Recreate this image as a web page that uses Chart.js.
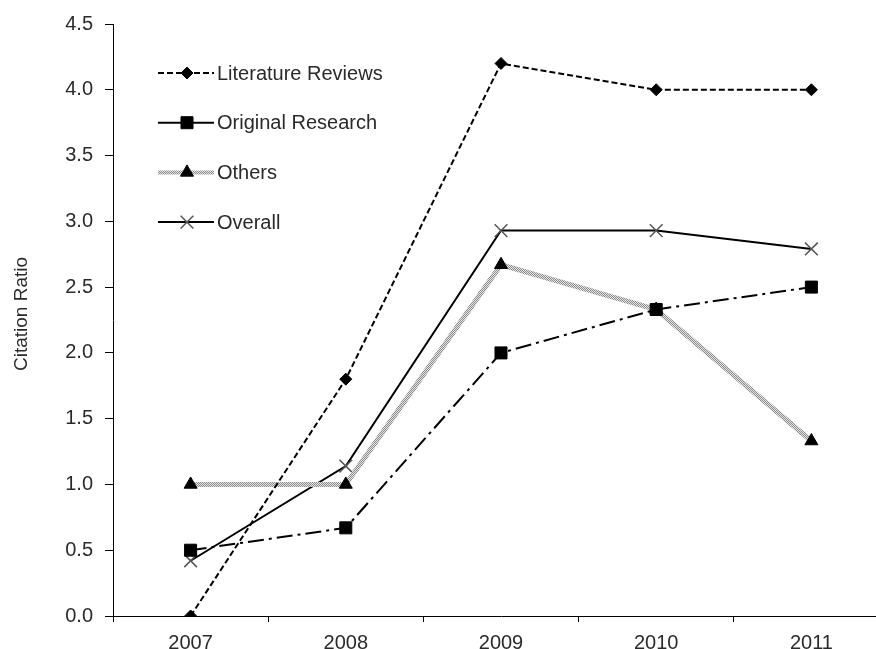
<!DOCTYPE html>
<html><head><meta charset="utf-8">
<script src="https://cdn.jsdelivr.net/npm/chart.js@4/dist/chart.umd.min.js"></script>
<style>
html,body{margin:0;padding:0;background:#fff;overflow:hidden;width:876px;height:649px}
#wrap{width:900px;height:649px;position:relative}
canvas{display:block}
</style></head><body>
<div id="wrap"><canvas id="c" width="900" height="649"></canvas></div>
<script>
const categories = ['2007', '2008', '2009', '2010', '2011'];
const literatureReviews = [0.0, 1.8, 4.2, 4.0, 4.0];
const originalResearch = [0.5, 0.67, 2.0, 2.33, 2.5];
const others = [1.0, 1.0, 2.67, 2.33, 1.33];
const overall = [0.42, 1.14, 2.93, 2.93, 2.79];
const yTickLabels = ['0.0', '0.5', '1.0', '1.5', '2.0', '2.5', '3.0', '3.5', '4.0', '4.5'];
const seriesNames = ['Literature Reviews', 'Original Research', 'Others', 'Overall'];
const yTitle = 'Citation Ratio';

const FONT = '"Liberation Sans", Arial, sans-serif';
const TEXT = '#2a2a2a';

// textured gray pattern for "Others"
const pc = document.createElement('canvas');
pc.width = 2; pc.height = 2;
const pctx = pc.getContext('2d');
pctx.fillStyle = '#e6e6e6'; pctx.fillRect(0, 0, 2, 2);
pctx.fillStyle = '#8a8a8a'; pctx.fillRect(0, 0, 1, 1); pctx.fillRect(1, 1, 1, 1);
const grayPattern = document.getElementById('c').getContext('2d').createPattern(pc, 'repeat');

const legendPlugin = {
  id: 'customLegend',
  afterDraw(chart) {
    const ctx = chart.ctx;
    const x0 = 158, x1 = 214, xm = 187, y0 = 73, dy = 49.7;
    chart.data.datasets.forEach((ds, i) => {
      const y = y0 + i * dy;
      ctx.save();
      ctx.strokeStyle = ds.borderColor;
      ctx.lineWidth = ds.legendLineWidth || ds.borderWidth;
      ctx.setLineDash(ds.legendDash || []);
      ctx.beginPath();
      ctx.moveTo(x0, y); ctx.lineTo(x1, y);
      ctx.stroke();
      ctx.setLineDash([]);
      ctx.fillStyle = ds.pointBackgroundColor;
      ctx.strokeStyle = ds.pointBorderColor;
      ctx.lineWidth = ds.pointBorderWidth;
      Chart.helpers.drawPoint(ctx, {pointStyle: ds.pointStyle, radius: ds.pointRadius, borderWidth: ds.pointBorderWidth, rotation: 0}, xm, y);
      ctx.fillStyle = TEXT;
      ctx.font = '20px ' + FONT;
      ctx.textBaseline = 'middle';
      ctx.textAlign = 'left';
      ctx.fillText(ds.label, 217, y + 1);
      ctx.restore();
    });
    // y-axis title
    ctx.save();
    ctx.translate(22, 314);
    ctx.rotate(-Math.PI / 2);
    ctx.fillStyle = TEXT;
    ctx.font = '19px ' + FONT;
    ctx.textAlign = 'center';
    ctx.textBaseline = 'middle';
    ctx.fillText(yTitle, 0, 0);
    ctx.restore();
  }
};

new Chart(document.getElementById('c'), {
  type: 'line',
  data: {
    labels: categories,
    datasets: [
      {label: seriesNames[0], data: literatureReviews, borderColor: '#000', borderWidth: 2, borderDash: [6, 3], legendDash: [6, 3],
       pointStyle: 'rectRot', pointRadius: 6, pointBackgroundColor: '#000', pointBorderColor: '#000', pointBorderWidth: 1},
      {label: seriesNames[1], data: originalResearch, borderColor: '#000', borderWidth: 2, borderDash: [16, 5, 3, 5], legendDash: [],
       pointStyle: 'rect', pointRadius: 8.5, pointBackgroundColor: '#000', pointBorderColor: '#000', pointBorderWidth: 1},
      {label: seriesNames[2], data: others, borderColor: grayPattern, borderWidth: 5, legendLineWidth: 4,
       pointStyle: 'triangle', pointRadius: 7.5, pointBackgroundColor: '#000', pointBorderColor: '#000', pointBorderWidth: 1},
      {label: seriesNames[3], data: overall, borderColor: '#000', borderWidth: 2,
       pointStyle: 'crossRot', pointRadius: 9, pointBackgroundColor: '#555', pointBorderColor: '#555', pointBorderWidth: 1.5}
    ]
  },
  options: {
    responsive: false,
    animation: false,
    devicePixelRatio: 1,
    layout: {padding: {left: 0, right: 11, top: 24, bottom: 0}},
    elements: {line: {tension: 0, fill: false}},
    plugins: {legend: {display: false}, tooltip: {enabled: false}},
    scales: {
      x: {
        type: 'category',
        offset: true,
        grid: {offset: true, drawOnChartArea: false, tickLength: 6, color: '#000', lineWidth: 1},
        border: {color: '#000', width: 1},
        ticks: {color: TEXT, font: {family: FONT, size: 20}, padding: 9, maxRotation: 0},
        afterFit(s) { s.height = 33; }
      },
      y: {
        min: 0, max: 4.5,
        grid: {drawOnChartArea: false, tickLength: 8, color: '#000', lineWidth: 1},
        border: {color: '#000', width: 1},
        ticks: {stepSize: 0.5, color: TEXT, font: {family: FONT, size: 20}, padding: 12,
                callback: (v, i) => yTickLabels[i]},
        title: {display: false, text: yTitle},
        afterFit(s) { s.width = 113; }
      }
    }
  },
  plugins: [legendPlugin]
});
</script>
</body></html>
